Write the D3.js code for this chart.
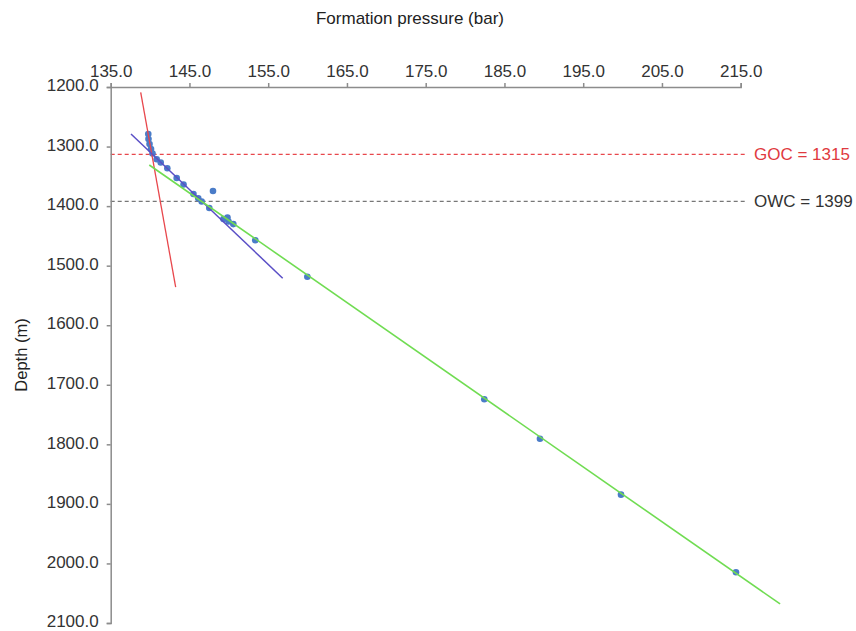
<meta charset="utf-8">
<script src="https://d3js.org/d3.v7.js"></script>
<style>
body { margin: 0; background: white; }
svg { font-family: 'Liberation Sans', Arial, sans-serif; }
.axis path, .axis line { stroke: #8c8c8c; stroke-width: 1.5px; }
.axis text { fill: #333; font-size: 17px; }
</style>
<div id="chart"></div>
<script>
// formation pressure (bar) and depth (m)
var pressure = [139.77, 139.80, 139.93, 140.12, 140.31, 140.84, 141.35, 142.19, 143.38, 144.25,
                145.51, 146.12, 146.55, 147.52, 147.99, 149.32, 149.83, 149.96, 150.57, 153.36,
                159.97, 182.44, 189.51, 199.80, 214.40];
var depth = [1278.9, 1287.3, 1295.7, 1304.1, 1311.7, 1321.3, 1326.7, 1336.5, 1352.8, 1363.7,
             1379.6, 1386.8, 1392.2, 1403.1, 1374.6, 1421.6, 1419.1, 1425.8, 1430.2, 1457.4,
             1518.5, 1724.4, 1790.5, 1884.5, 2014.8];

// gradient trend lines: [pressure, depth] start and end
var gasLine = [[138.81, 1209], [143.25, 1536]];
var oilLine = [[137.58, 1279], [156.84, 1521]];
var waterLine = [[139.9, 1331], [220.0, 2068]];

// fluid contacts: label value and depth where the dashed line sits
var contactNames = ["GOC", "OWC"];
var contactValues = [1315, 1399];
var contactLineDepth = [1313, 1392];

var xTicks = [135, 145, 155, 165, 175, 185, 195, 205, 215];
var yTicks = [1200, 1300, 1400, 1500, 1600, 1700, 1800, 1900, 2000, 2100];

var width = 856, height = 631;
var svg = d3.select("#chart").append("svg")
    .attr("width", width)
    .attr("height", height);

var x = d3.scaleLinear().domain([135, 215]).range([110.7, 740.7]);
var y = d3.scaleLinear().domain([1200, 2100]).range([87, 623]);

// dashed contact lines
var contactColors = ["#e8474c", "#777"];
var textColors = ["#e03a40", "#333"];
contactNames.forEach(function(name, i) {
    svg.append("line")
        .attr("x1", x(135)).attr("x2", 746)
        .attr("y1", y(contactLineDepth[i])).attr("y2", y(contactLineDepth[i]))
        .attr("stroke", contactColors[i])
        .attr("stroke-width", 1.2)
        .attr("stroke-dasharray", "4,3");
    svg.append("text")
        .attr("x", 754)
        .attr("y", y(contactLineDepth[i]))
        .attr("dy", "0.35em")
        .attr("fill", textColors[i])
        .style("font-size", "17px")
        .text(name + " = " + contactValues[i]);
});

// axes
svg.append("g")
    .attr("class", "axis")
    .attr("transform", "translate(0," + y(1200) + ")")
    .call(d3.axisTop(x).tickValues(xTicks).tickSize(4).tickPadding(6).tickSizeOuter(4)
        .tickFormat(d3.format(".1f")));

var yAxis = svg.append("g")
    .attr("class", "axis")
    .attr("transform", "translate(" + x(135) + ",0)")
    .call(d3.axisLeft(y).tickValues(yTicks).tickSize(4).tickPadding(8).tickSizeOuter(4)
        .tickFormat(d3.format(".1f")));
yAxis.selectAll("text").attr("dy", "0.22em");

// points
svg.append("g")
    .selectAll("circle")
    .data(pressure)
    .enter()
    .append("circle")
    .attr("cx", function(d) { return x(d); })
    .attr("cy", function(d, i) { return y(depth[i]); })
    .attr("r", 3.3)
    .attr("fill", "#4a7cc8");

// trend lines
var line = d3.line()
    .x(function(d) { return x(d[0]); })
    .y(function(d) { return y(d[1]); });

[[gasLine, "#e8474c", 1.3], [oilLine, "#5a4fc6", 1.5], [waterLine, "#70dc52", 1.6]].forEach(function(l) {
    svg.append("path")
        .attr("d", line(l[0]))
        .attr("fill", "none")
        .attr("stroke", l[1])
        .attr("stroke-width", l[2]);
});

// axis titles
svg.append("text")
    .attr("x", 410)
    .attr("y", 24)
    .attr("text-anchor", "middle")
    .attr("fill", "#222")
    .style("font-size", "17px")
    .text("Formation pressure (bar)");

svg.append("text")
    .attr("transform", "translate(27,355) rotate(-90)")
    .attr("text-anchor", "middle")
    .attr("fill", "#222")
    .style("font-size", "16.5px")
    .text("Depth (m)");
</script>
